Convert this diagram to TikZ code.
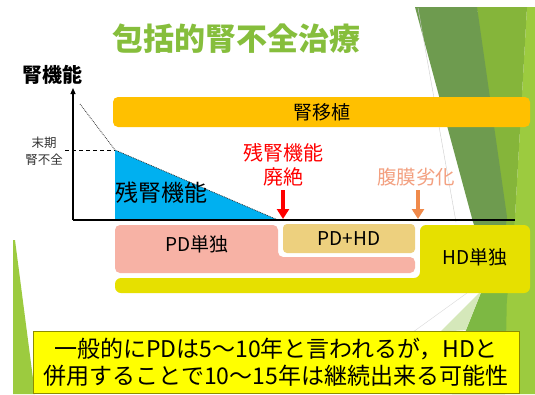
\documentclass[tikz,border=0pt]{standalone}
\usepackage{fontspec}
\setmainfont{Noto Sans CJK JP}
\usetikzlibrary{arrows.meta}
\definecolor{titlegreen}{HTML}{86BE3C}
\definecolor{darkgreen}{HTML}{6E9B4F}
\definecolor{olivegreen}{HTML}{85B53A}
\definecolor{brightgreen}{HTML}{9CCB3F}
\definecolor{midgreen}{HTML}{7DB843}
\definecolor{lightgreen}{HTML}{D5E8BA}
\definecolor{transplant}{HTML}{FFC000}
\definecolor{residual}{HTML}{00B0F0}
\definecolor{pdpink}{HTML}{F7B2A5}
\definecolor{pdhdtan}{HTML}{EDD07E}
\definecolor{hdyellow}{HTML}{E6E000}
\definecolor{notered}{HTML}{FF0000}
\definecolor{perito}{HTML}{F3A080}
\definecolor{peritoarrow}{HTML}{F08A4B}
\definecolor{boxyellow}{HTML}{FFFF00}
\definecolor{boxedge}{HTML}{8C8C00}
\definecolor{stagegray}{HTML}{333333}
\tikzset{
  lbl/.style={inner sep=0pt, outer sep=0pt},
  fsz/.style={font=\fontsize{#1}{#1}\selectfont},
  barbox/.style={lbl, rounded corners=5pt},
  axisline/.style={line width=1.2pt, black},
  downarrow/.style={line width=3.2pt, -{Triangle[length=10pt,width=12pt]}},
  guide/.style={densely dotted, line width=0.8pt, black!80},
}
\begin{document}
\begin{tikzpicture}[x=1pt,y=-1pt]
\useasboundingbox (0,0) rectangle (535,394);
\fill[white] (0,0) rectangle (535,394);
% background decoration
\fill[brightgreen] (527,7) -- (535,7) -- (535,394) -- (440,394) -- (470,330) -- (500,290) -- (515,217) -- cycle;
\fill[olivegreen] (477,7) -- (527,7) -- (515,217) -- (507,300) -- (495,290) -- cycle;
\fill[darkgreen] (415,7) -- (477,7) -- (507,217) -- (497,290) -- (473,222) -- cycle;
\fill[midgreen] (482,290) -- (507,290) -- (505,394) -- (452,394) -- (466,330) -- cycle;
\fill[lightgreen] (440,332) -- (482,290) -- (466,330) -- cycle;
\draw[black!20, line width=0.4pt] (418,8) -- (456,222);
\draw[black!15, line width=0.4pt] (413,332) -- (467,293);
\fill[brightgreen] (13,240) -- (15,240) -- (35,394) -- (13,394) -- cycle;
% title
\node[lbl, text=titlegreen, font=\fontsize{31}{31}\selectfont\bfseries] (title) at (236,39) {包括的腎不全治療};
% y axis label
\node[lbl, font=\fontsize{20}{20}\selectfont\bfseries] (ylabel) at (52,75) {腎機能};
% axes
\coordinate (origin) at (73,220);
\coordinate (ytop) at (73,88);
\coordinate (xend) at (515,220);
% transplant bar
\node[barbox, fill=transplant, minimum width=417pt, minimum height=30pt, fsz=19] (tx) at (321.5,112) {腎移植};
% residual function triangle
\coordinate (tA) at (115,150);
\coordinate (tB) at (115,220);
\coordinate (tC) at (278,220);
\coordinate (dStart) at (80,104);
\coordinate (dashL) at (65,150);
\fill[residual] (tA) -- (tB) -- (tC) -- cycle;
\draw[guide] (dStart) -- (tA) -- (tC);
\draw[line width=0.9pt, dash pattern=on 4pt off 3pt] (dashL) -- (tA);
\node[lbl, fsz=23] (resid) at (161,193) {残腎機能};
\node[lbl, text=stagegray, align=center, font=\fontsize{12.5}{17}\selectfont] (esrd) at (44,151) {末期\\腎不全};
\draw[axisline, -{Triangle[length=6pt,width=5pt]}] (origin) -- (ytop);
\draw[axisline] (origin) -- (xend);
% events
\node[lbl, text=notered, align=center, font=\fontsize{20}{24}\selectfont] (loss) at (283,165) {残腎機能\\廃絶};
\coordinate (ra1) at (283,190);
\coordinate (ra2) at (283,219);
\draw[downarrow, notered] (ra1) -- (ra2);
\node[lbl, fsz=19.5, text=perito] (deg) at (416,177) {腹膜劣化};
\coordinate (oa1) at (418,190);
\coordinate (oa2) at (418,219);
\draw[downarrow, peritoarrow] (oa1) -- (oa2);
% treatment phases
\fill[pdpink, rounded corners=5pt] (115,225) -- (278,225) -- (278,257) -- (415,257) -- (415,273) -- (115,273) -- cycle;
\node[lbl, fsz=19] (pdonly) at (197,244) {PD単独};
\node[barbox, fill=pdhdtan, rounded corners=4pt, minimum width=132pt, minimum height=29pt, fsz=19] (pdhd) at (349,238.5) {PD+HD};
\fill[hdyellow, rounded corners=6pt] (420,225) -- (530,225) -- (530,293) -- (115,293) -- (115,278) -- (420,278) -- cycle;
\node[lbl, fsz=19] (hdonly) at (475,257) {HD単独};
% note box
\node[lbl, draw=boxedge, line width=0.8pt, fill=boxyellow, minimum width=486pt, minimum height=62pt, align=center, font=\fontsize{23}{27}\selectfont] (note) at (276,362)
  {一般的にPDは5～10年と言われるが，HDと\\併用することで10～15年は継続出来る可能性};
\end{tikzpicture}
\end{document}
